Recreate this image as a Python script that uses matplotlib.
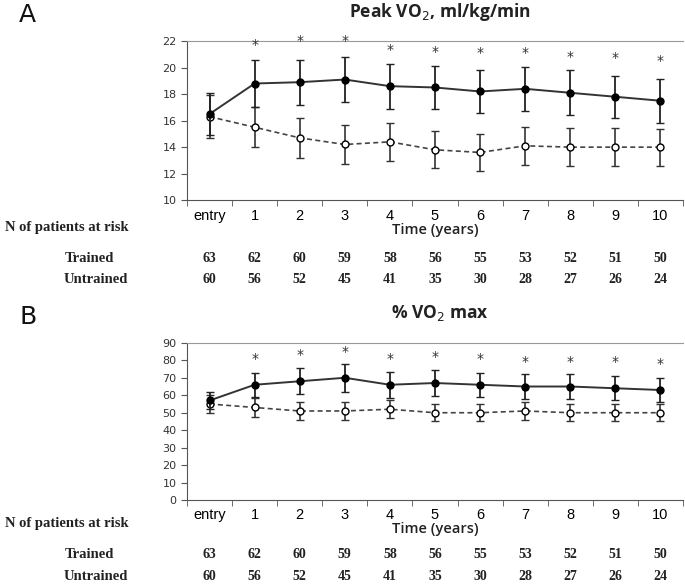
import numpy as np
import matplotlib.pyplot as plt

# Data
labels = ["entry", "1", "2", "3", "4", "5", "6", "7", "8", "9", "10"]

peak_trained = [16.5, 18.8, 18.9, 19.1, 18.6, 18.5, 18.2, 18.4, 18.1, 17.8, 17.5]
peak_trained_err = [1.6, 1.75, 1.7, 1.7, 1.7, 1.65, 1.65, 1.65, 1.7, 1.6, 1.65]
peak_untrained = [16.3, 15.5, 14.7, 14.2, 14.4, 13.8, 13.6, 14.1, 14.0, 14.0, 14.0]
peak_untrained_err = [1.6, 1.5, 1.5, 1.45, 1.45, 1.4, 1.4, 1.45, 1.45, 1.45, 1.4]
peak_star = [None, 21.7, 22.0, 22.0, 21.3, 21.2, 21.1, 21.1, 20.8, 20.7, 20.5]

pct_trained = [57, 66, 68, 70, 66, 67, 66, 65, 65, 64, 63]
pct_trained_err = [5, 7, 7.5, 8, 7.5, 7.5, 7, 7, 7, 7, 7]
pct_untrained = [55, 53, 51, 51, 52, 50, 50, 51, 50, 50, 50]
pct_untrained_err = [5, 5.5, 5, 5, 5, 5, 5, 5, 5, 5, 5]
pct_star = [None, 81, 83, 85, 81, 82, 81, 79, 79, 79, 78]

n_trained = [63, 62, 60, 59, 58, 56, 55, 53, 52, 51, 50]
n_untrained = [60, 56, 52, 45, 41, 35, 30, 28, 27, 26, 24]

x = np.arange(len(labels))

fig = plt.figure(figsize=(6.85, 5.87), dpi=100)


def panel(rect, tr, tr_err, un, un_err, stars, ylim, yticks, title, letter):
    ax = fig.add_axes(rect)
    ax.errorbar(x, un, yerr=un_err, color="#444444", ls=(0, (3, 2)), lw=1.2,
                marker="o", ms=5, mfc="white", mec="black", mew=1,
                capsize=3, elinewidth=1.2, ecolor="#333333", zorder=2)
    ax.errorbar(x, tr, yerr=tr_err, color="#333333", ls="-", lw=1.4,
                marker="o", ms=5, mfc="black", mec="black",
                capsize=3, elinewidth=1.3, ecolor="#222222", zorder=3)
    for xi, s in zip(x, stars):
        if s is not None:
            ax.text(xi, s, "*", ha="center", va="center", fontsize=10,
                    color="#333333", clip_on=False)
    ax.set_xlim(-0.5, len(labels) - 0.5)
    ax.set_ylim(*ylim)
    ax.set_yticks(yticks)
    ax.set_xticks(x)
    ax.set_xticklabels(labels, fontsize=10.5, family="Liberation Sans")
    ax.set_xticks(np.arange(-0.5, len(labels), 1.0), minor=True)
    ax.tick_params(axis="x", which="major", length=0, pad=6)
    ax.tick_params(axis="x", which="minor", length=4, color="#555555")
    ax.tick_params(axis="y", length=4, labelsize=8, color="#555555",
                   labelcolor="#333333")
    for side in ["left", "bottom"]:
        ax.spines[side].set_color("#555555")
    ax.spines["top"].set_color("#999999")
    ax.spines["right"].set_visible(False)
    ax.set_xlabel("Time (years)", fontsize=10.5, labelpad=0, color="#222222",
                  family="Open Sans", fontweight="semibold")
    # titles and panel letter
    fig.text(0.642, rect[1] + rect[3] + 0.05, title, ha="center", va="center",
             fontsize=12.5, fontweight="bold", color="#222222", family="Open Sans")
    fig.text(0.028, rect[1] + rect[3] + 0.044, letter, ha="left", va="center",
             fontsize=18, color="#111111")
    return ax


axA = panel([0.273, 0.659, 0.724, 0.271], peak_trained, peak_trained_err,
            peak_untrained, peak_untrained_err, peak_star, (10, 22),
            range(10, 23, 2), "Peak VO$_2$, ml/kg/min", "A")
axB = panel([0.273, 0.148, 0.724, 0.268], pct_trained, pct_trained_err,
            pct_untrained, pct_untrained_err, pct_star, (0, 90),
            range(0, 91, 10), "% VO$_2$ max", "B")


def risk_table(ax, y_head, y_tr, y_un):
    tf = dict(family="Liberation Serif", fontweight="bold", color="#222222")
    fig.text(0.008, y_head, "N of patients at risk", ha="left", va="center",
             fontsize=10.5, **tf)
    fig.text(0.095, y_tr, "Trained", ha="left", va="center", fontsize=10.5, **tf)
    fig.text(0.093, y_un, "Untrained", ha="left", va="center", fontsize=10.5, **tf)
    for xi, a, b in zip(x, n_trained, n_untrained):
        xf = fig.transFigure.inverted().transform(ax.transData.transform((xi, 0)))[0]
        fig.text(xf, y_tr, str(a), ha="center", va="center", fontsize=10, **tf)
        fig.text(xf, y_un, str(b), ha="center", va="center", fontsize=10, **tf)


risk_table(axA, 1 - 227 / 587, 1 - 258 / 587, 1 - 280 / 587)
risk_table(axB, 1 - 524 / 587, 1 - 554 / 587, 1 - 577 / 587)

fig.savefig("out.png", dpi=100)
